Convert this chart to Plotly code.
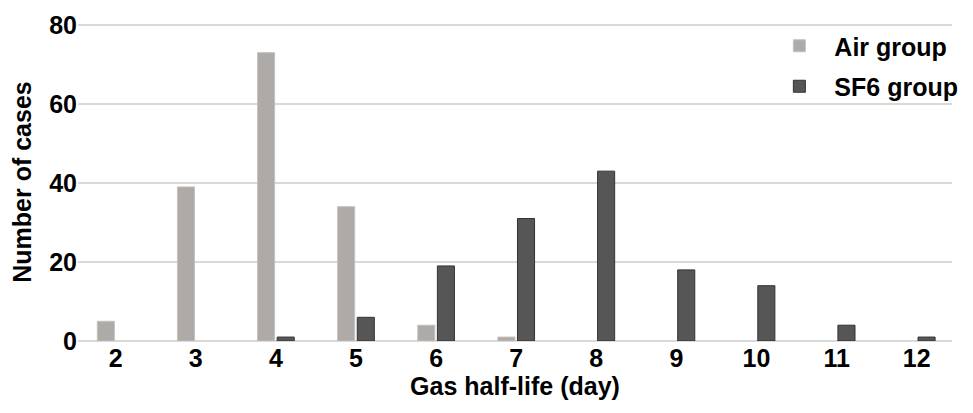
import plotly.graph_objects as go

half_life_days = [2, 3, 4, 5, 6, 7, 8, 9, 10, 11, 12]
air_group = [5, 39, 73, 34, 4, 1, None, None, None, None, None]
sf6_group = [None, None, 1, 6, 19, 31, 43, 18, 14, 4, 1]
y_ticks = [0, 20, 40, 60, 80]

FONT = "Liberation Sans, Arial, Helvetica, sans-serif"
FS = 25

fig = go.Figure()
fig.add_trace(go.Bar(
    x=half_life_days, y=air_group, name="Air group",
    marker=dict(color="#aeaaa7", line=dict(color="#c4c1be", width=1)),
    legendgroup="a",
))
fig.add_trace(go.Bar(
    x=half_life_days, y=sf6_group, name="SF6 group",
    marker=dict(color="#565656", line=dict(color="#333333", width=1)),
    legendgroup="b",
))

fig.update_layout(
    width=965, height=405,
    margin=dict(l=70, r=21, t=15, b=72, autoexpand=False),
    plot_bgcolor="white", paper_bgcolor="white",
    barmode="group", bargap=0.51, bargroupgap=0.13,
    font=dict(family=FONT, size=FS, color="black", weight="bold"),
    legend=dict(
        x=1.013, xanchor="right", y=1.0, yanchor="top",
        font=dict(family=FONT, size=25, color="black", weight="bold"),
        bgcolor="rgba(255,255,255,0)", tracegroupgap=5, traceorder="grouped",
        itemwidth=60,
    ),
    xaxis=dict(
        range=[1.53, 12.44], tickmode="array", tickvals=half_life_days,
        ticktext=[str(v) for v in half_life_days],
        showgrid=False, zeroline=False, showline=False, ticks="",
        automargin=False,
        tickfont=dict(family=FONT, size=FS, color="black", weight="bold"),
        title=dict(text="Gas half-life (day)", standoff=4,
                   font=dict(family=FONT, size=FS, color="black", weight="bold")),
    ),
    yaxis=dict(
        range=[0, 80.5], tickmode="array", tickvals=y_ticks,
        showgrid=True, gridcolor="#d9d9d9", gridwidth=1.5,
        zeroline=True, zerolinecolor="#d9d9d9", zerolinewidth=1.5,
        showline=False, ticks="", ticklen=0, automargin=False,
        tickfont=dict(family=FONT, size=FS, color="black", weight="bold"),
        title=dict(text="Number of cases", standoff=12,
                   font=dict(family=FONT, size=FS, color="black", weight="bold")),
    ),
)

fig.write_html("out.html")
